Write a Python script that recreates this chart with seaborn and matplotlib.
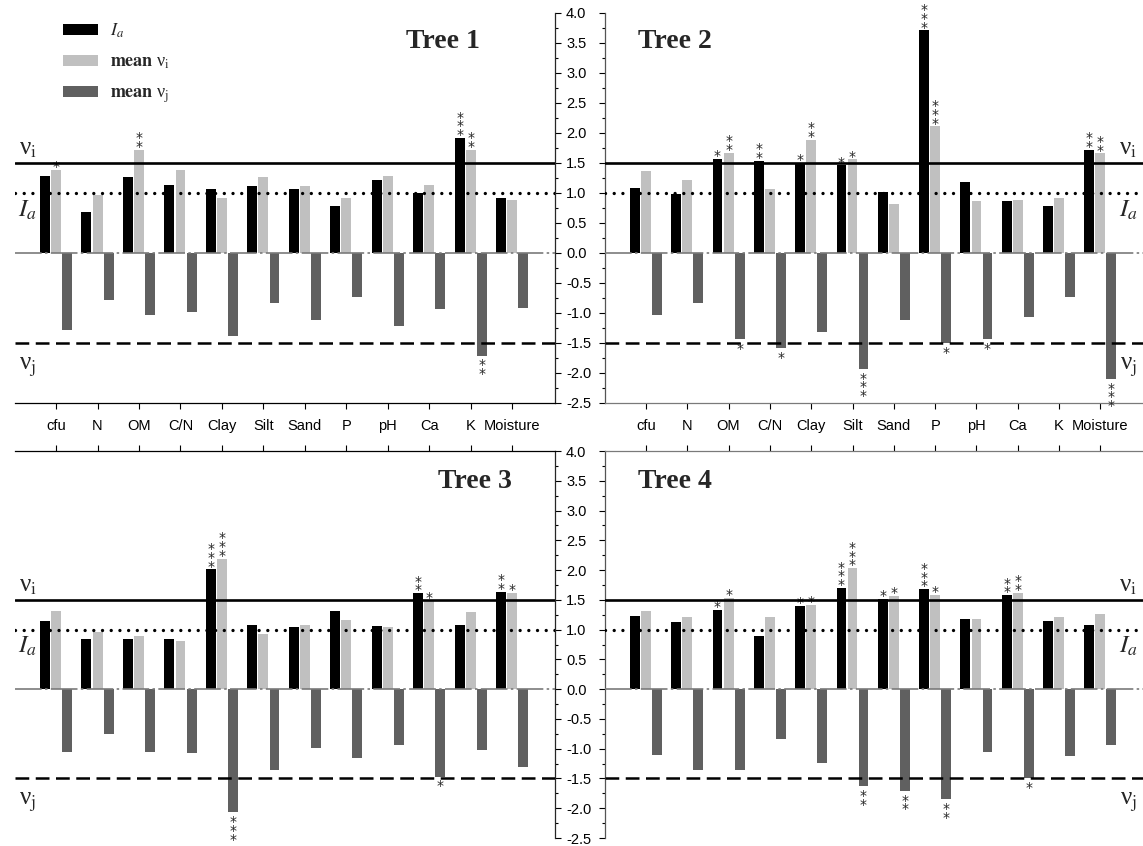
import numpy as np
import pandas as pd
import seaborn as sns
import matplotlib
matplotlib.use("Agg")
import matplotlib.pyplot as plt
from matplotlib.patches import Patch
from matplotlib.ticker import MultipleLocator, FormatStrFormatter

# soil variables on the x axis
variables = ["cfu", "N", "OM", "C/N", "Clay", "Silt", "Sand", "P", "pH", "Ca", "K", "Moisture"]
series = ["Ia", "vi", "vj"]

# Tree 1
t1_ia = [1.28, 0.69, 1.26, 1.14, 1.06, 1.12, 1.06, 0.79, 1.22, 1.00, 1.92, 0.92]
t1_vi = [1.39, 0.96, 1.72, 1.39, 0.91, 1.26, 1.12, 0.91, 1.29, 1.14, 1.72, 0.89]
t1_vj = [-1.28, -0.79, -1.04, -0.98, -1.39, -0.84, -1.11, -0.73, -1.21, -0.94, -1.71, -0.92]
t1_ia_sig = ["", "", "", "", "", "", "", "", "", "", "***", ""]
t1_vi_sig = ["*", "", "**", "", "", "", "", "", "", "", "**", ""]
t1_vj_sig = ["", "", "", "", "", "", "", "", "", "", "**", ""]

# Tree 2
t2_ia = [1.08, 0.99, 1.57, 1.54, 1.50, 1.46, 1.01, 3.71, 1.19, 0.87, 0.78, 1.72]
t2_vi = [1.36, 1.22, 1.67, 1.07, 1.89, 1.56, 0.82, 2.11, 0.86, 0.89, 0.92, 1.66]
t2_vj = [-1.04, -0.84, -1.44, -1.59, -1.32, -1.93, -1.11, -1.50, -1.44, -1.07, -0.74, -2.10]
t2_ia_sig = ["", "", "*", "**", "*", "*", "", "***", "", "", "", "**"]
t2_vi_sig = ["", "", "**", "", "**", "*", "", "***", "", "", "", "**"]
t2_vj_sig = ["", "", "*", "*", "", "***", "", "*", "*", "", "", "***"]

# Tree 3
t3_ia = [1.14, 0.84, 0.84, 0.84, 2.01, 1.07, 1.04, 1.31, 1.06, 1.61, 1.07, 1.64]
t3_vi = [1.32, 0.96, 0.89, 0.81, 2.19, 0.93, 1.07, 1.16, 1.04, 1.49, 1.29, 1.62]
t3_vj = [-1.06, -0.76, -1.06, -1.07, -2.07, -1.35, -0.99, -1.16, -0.94, -1.47, -1.02, -1.31]
t3_ia_sig = ["", "", "", "", "***", "", "", "", "", "**", "", "**"]
t3_vi_sig = ["", "", "", "", "***", "", "", "", "", "*", "", "*"]
t3_vj_sig = ["", "", "", "", "***", "", "", "", "", "*", "", ""]

# Tree 4
t4_ia = [1.23, 1.13, 1.33, 0.90, 1.40, 1.70, 1.51, 1.68, 1.17, 1.58, 1.15, 1.07]
t4_vi = [1.32, 1.22, 1.53, 1.22, 1.42, 2.03, 1.57, 1.58, 1.17, 1.62, 1.22, 1.27]
t4_vj = [-1.11, -1.36, -1.36, -0.84, -1.24, -1.63, -1.71, -1.85, -1.06, -1.50, -1.13, -0.94]
t4_ia_sig = ["", "", "*", "", "*", "***", "*", "***", "", "**", "", ""]
t4_vi_sig = ["", "", "*", "", "*", "***", "*", "*", "", "**", "", ""]
t4_vj_sig = ["", "", "", "", "", "**", "**", "**", "", "*", "", ""]

colors = {"Ia": "#000000", "vi": "#c0c0c0", "vj": "#606060"}

sns.set_style("white")
plt.rcParams["font.family"] = ["Liberation Sans", "DejaVu Sans"]
plt.rcParams["mathtext.fontset"] = "stix"
plt.rcParams["axes.unicode_minus"] = False

serif = ["Liberation Serif", "DejaVu Serif"]

fig = plt.figure(figsize=(11.43, 8.46), dpi=100)

W, H = 1143, 846


def px_axes(x0, y0, x1, y1):
    # pixel box (top-left origin) -> figure axes
    return fig.add_axes([x0 / W, 1 - y1 / H, (x1 - x0) / W, (y1 - y0) / H])


def panel(ax, ia, vi, vj, sigs, title, title_pos, side, top_row):
    df = pd.DataFrame({
        "var": variables * 3,
        "series": ["Ia"] * 12 + ["vi"] * 12 + ["vj"] * 12,
        "value": ia + vi + vj,
    })
    sns.barplot(data=df, x="var", y="value", hue="series", order=variables,
                hue_order=series, palette=colors, saturation=1, width=0.8,
                gap=0.1, errorbar=None, legend=False, linewidth=0, ax=ax)

    ax.set_xlim(-0.99, 12.03)
    ax.set_ylim(-2.5, 4.0)
    ax.set_xlabel("")
    ax.set_ylabel("")

    # reference lines
    ax.axhline(1.5, color="black", lw=1.9, zorder=5)
    ax.axhline(1.0, color="black", lw=2.4, ls=(0, (0.01, 2.6)),
               dash_capstyle="round", zorder=5)
    ax.axhline(-1.5, color="black", lw=1.8, ls=(0, (5.5, 2.6)), zorder=5)
    ax.axhline(0, color="#7a7a7a", lw=1.2, ls=(0, (16, 2, 1.5, 2)), zorder=4)

    # significance stars
    step = 0.8 / 3
    for k, vals in enumerate([ia, vi, vj]):
        for i, (v, s) in enumerate(zip(vals, sigs[k])):
            if not s:
                continue
            txt = "\n".join(s)
            x = i + (k - 1) * step
            if v >= 0:
                ax.annotate(txt, (x, v), xytext=(0, -3), textcoords="offset points",
                            ha="center", va="bottom", fontsize=10, linespacing=0.52,
                            family="DejaVu Sans")
            else:
                ax.annotate(txt, (x, v), xytext=(0, -2), textcoords="offset points",
                            ha="center", va="top", fontsize=10, linespacing=0.52,
                            family="DejaVu Sans")

    ax.text(title_pos[0], title_pos[1], title, transform=ax.transAxes,
            ha="center", va="center", fontsize=20, fontweight="bold", family=serif)

    # nu / Ia labels
    lx = -0.68 if side == "left" else 11.68
    ax.text(lx, 1.74, "ν$_\\mathrm{i}$", ha="center", va="center", fontsize=18, family=serif)
    ax.text(lx, 0.72, "$I_a$", ha="center", va="center", fontsize=18)
    ax.text(lx, -1.9, "ν$_\\mathrm{j}$", ha="center", va="center", fontsize=18, family=serif)

    # axes styling
    for sp in ax.spines.values():
        sp.set_visible(False)
    ax.yaxis.set_major_locator(MultipleLocator(0.5))
    ax.yaxis.set_minor_locator(MultipleLocator(0.25))
    ax.yaxis.set_major_formatter(FormatStrFormatter("%.1f"))
    ax.set_xticks(range(12))
    ax.tick_params(axis="both", which="both", direction="out", colors="black",
                   labelsize=10.5, width=0.8)
    ax.tick_params(axis="both", which="major", length=4, pad=4)
    ax.tick_params(axis="y", which="minor", length=2.5)
    ax.tick_params(axis="x", which="minor", bottom=False, top=False)

    xcol = "black" if side == "left" else "#7a7a7a"
    if top_row:
        ax.spines["bottom"].set_visible(True)
        ax.spines["bottom"].set_color(xcol)
        ax.xaxis.tick_bottom()
        ax.set_xticklabels(variables)
        ax.tick_params(axis="x", pad=15.5)
        for lab in ax.get_xticklabels():
            lab.set_verticalalignment("baseline")
    else:
        ax.spines["top"].set_visible(True)
        ax.spines["top"].set_color(xcol)
        ax.xaxis.tick_top()
        ax.tick_params(axis="x", labeltop=False, labelbottom=False)

    if side == "left":
        ax.spines["right"].set_visible(True)
        ax.yaxis.tick_right()
        ax.tick_params(axis="y", which="both", labelright=True, labelleft=False)
    else:
        ax.spines["left"].set_visible(True)
        ax.spines["left"].set_color("#555555")
        ax.yaxis.tick_left()
        ax.tick_params(axis="y", which="both", labelleft=False, labelright=False)
    for sp in ax.spines.values():
        sp.set_linewidth(0.9)
    ax.set_facecolor("none")


ax1 = px_axes(15, 13, 555, 403)
ax2 = px_axes(605, 13, 1143, 403)
ax3 = px_axes(15, 451, 555, 838)
ax4 = px_axes(605, 451, 1143, 838)

panel(ax1, t1_ia, t1_vi, t1_vj, [t1_ia_sig, t1_vi_sig, t1_vj_sig], "Tree 1", (0.793, 0.927), "left", True)
panel(ax2, t2_ia, t2_vi, t2_vj, [t2_ia_sig, t2_vi_sig, t2_vj_sig], "Tree 2", (0.13, 0.927), "right", True)
panel(ax3, t3_ia, t3_vi, t3_vj, [t3_ia_sig, t3_vi_sig, t3_vj_sig], "Tree 3", (0.852, 0.92), "left", False)
panel(ax4, t4_ia, t4_vi, t4_vj, [t4_ia_sig, t4_vi_sig, t4_vj_sig], "Tree 4", (0.13, 0.92), "right", False)

handles = [Patch(facecolor=colors[s], edgecolor="none") for s in series]
labels = ["$I_a$", "$\\mathbf{mean}$ ν$_\\mathrm{i}$", "$\\mathbf{mean}$ ν$_\\mathrm{j}$"]
ax1.legend(handles, labels, loc="upper left", bbox_to_anchor=(0.072, 1.0),
           frameon=False, borderpad=0, handlelength=1.95, handleheight=0.55,
           handletextpad=0.66, labelspacing=0.75, prop={"family": serif, "size": 13})

fig.savefig("out.png", dpi=100)
